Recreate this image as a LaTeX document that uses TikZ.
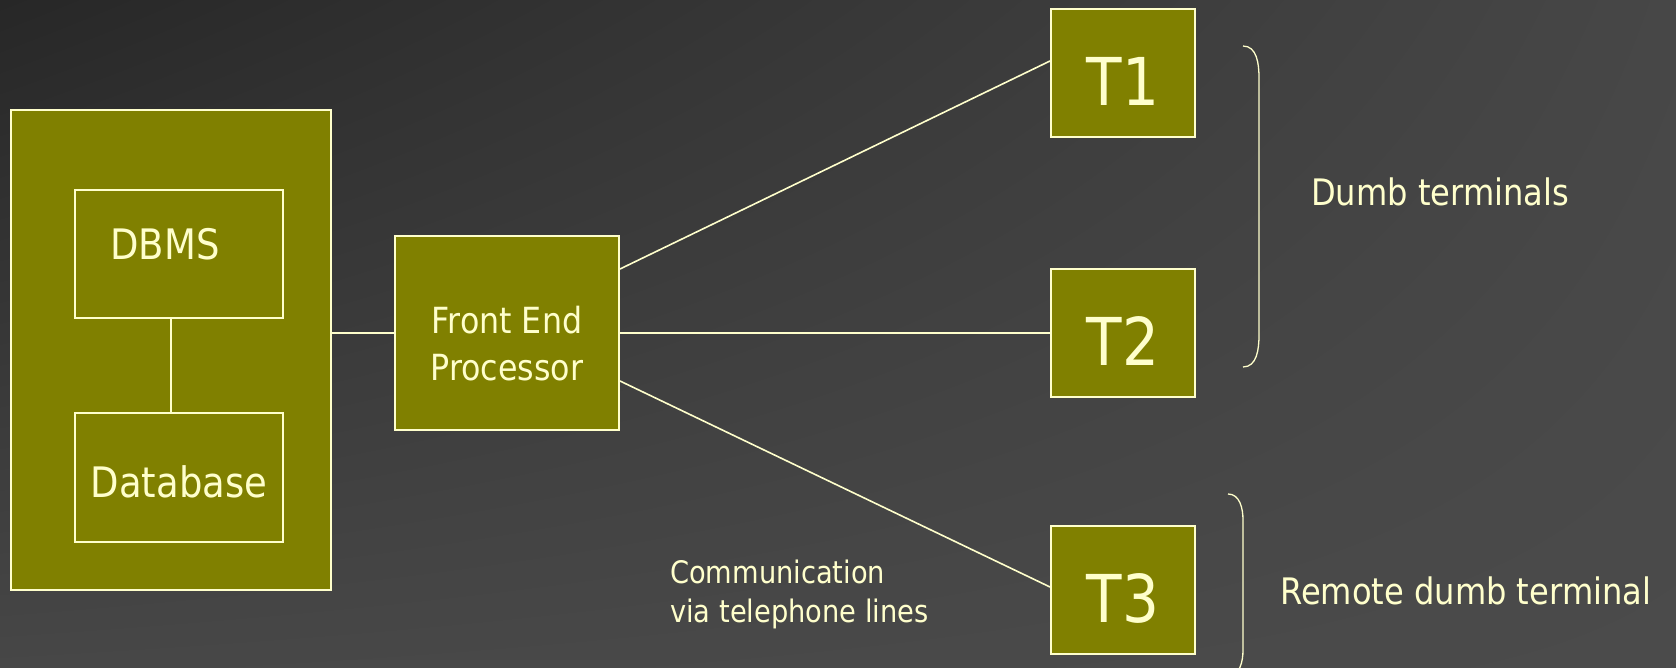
\documentclass[tikz,border=0pt]{standalone}
\usepackage{fontspec}
\setmainfont{DejaVu Sans}[FakeStretch=0.88]
\usepackage{tikz}
\usetikzlibrary{
    calc,
    shadings,
    positioning,
}
\definecolor{bgdark}{HTML}{272727}
\definecolor{bgmid}{HTML}{474747}
\definecolor{bglight}{HTML}{4B4B4B}
\definecolor{boxfill}{HTML}{808000}
\definecolor{linecol}{HTML}{FFFFCC}
\tikzset{
    boxnode/.style={
            draw=linecol,
            fill=boxfill,
            line width=2pt,
            inner sep=0,
            text=linecol,
        }
}
\tikzset{
    termnode/.style={
            boxnode,
            minimum width=144,
            minimum height=128,
            text height=65pt,
            text depth=0pt,
            font=\fontsize{66}{72}\selectfont,
        }
}
\tikzset{
    textnode/.style={
            inner sep=0,
            text=linecol,
            font=\fontsize{36.5}{47}\selectfont,
        }
}
\tikzset{
    wire/.style={
            draw=linecol,
            line width=1.6pt,
        }
}

\begin{document}
\begin{tikzpicture}[x=1pt, y=-1pt]
    % background
    \useasboundingbox (0,0) rectangle (1676,668);
    \shade[
        upper left=bgdark,
        upper right=bgmid,
        lower left=bgmid,
        lower right=bglight,
    ] (0,0) rectangle (1676,668);

    % host computer
    \node[
        boxnode,
        minimum width=320,
        minimum height=480,
    ] (host) at (171,350) {};
    \node[
        boxnode,
        minimum width=208,
        minimum height=128,
        text height=10.6pt,
        text depth=0pt,
        font=\fontsize{42}{50}\selectfont,
    ] (dbms) at (179,254) {DBMS\hspace*{28pt}};
    \node[
        boxnode,
        minimum width=208,
        minimum height=129,
        text height=41.6pt,
        text depth=0pt,
        font=\fontsize{42}{50}\selectfont,
    ] (db) at (179,477) {Database};

    % front end processor
    \node[
        boxnode,
        minimum width=224,
        minimum height=193,
        font=\fontsize{36}{47}\selectfont,
    ] (fep) at (507,333)
        {\raisebox{-21pt}[0pt][0pt]{\begin{tabular}{@{}c@{}}Front End\\Processor\end{tabular}}};

    % terminals
    \node[termnode] (t1) at (1123,73) {T1};
    \node[termnode] (t2) at (1123,333) {T2};
    \node[termnode] (t3) at (1123,590) {T3};

    % dbms -> database
    \draw[wire] (dbms.south -| 171,0) -- (db.north -| 171,0);

    % host -> front end processor
    \draw[wire] (fep.west -| host.east) -- (fep.west);

    % front end processor -> terminals
    \draw[wire] ([yshift=64pt]fep.east) -- ([yshift=12pt]t1.west);
    \draw[wire] (fep.east) -- (t2.west);
    \draw[wire] ([yshift=-48pt]fep.east) -- ([yshift=3pt]t3.west);

    % braces
    \draw[wire, line width=1.3pt] (1243,46) to[out=0,in=90] (1259,78)
        -- (1259,335) to[out=-90,in=0] (1243,367);
    \begin{scope}
        \clip (0,0) rectangle (1676,668);
        \draw[wire, line width=1.3pt] (1228,494) to[out=0,in=90] (1243,520)
            -- (1243,650) to[out=-90,in=0] (1228,676);
    \end{scope}

    % annotations
    \node[
        textnode,
        anchor=west,
    ] (dumb) at (1311,192) {Dumb terminals};
    \node[
        textnode,
        anchor=west,
    ] (remote) at (1280,591) {Remote dumb terminal};
    \node[
        textnode,
        anchor=base west,
        align=left,
        font=\fontsize{31}{39}\selectfont,
    ] (phone) at (670,622) {Communication\\via telephone lines};
\end{tikzpicture}
\end{document}
